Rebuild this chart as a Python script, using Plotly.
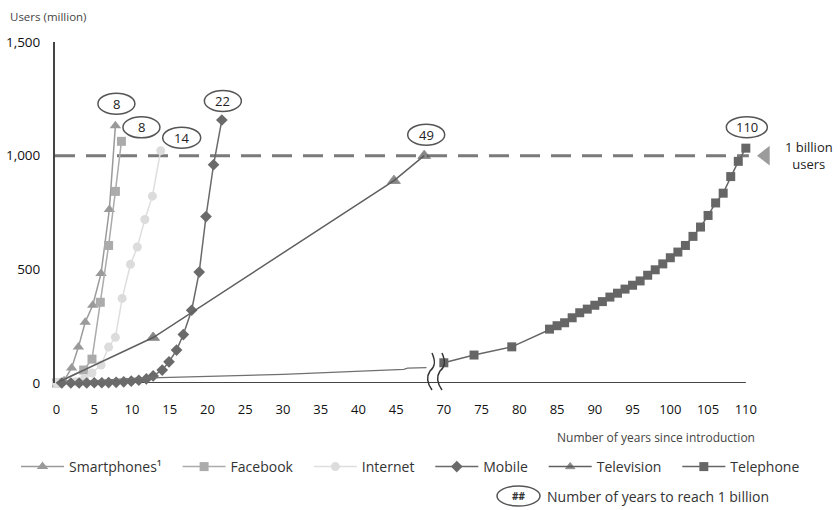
import plotly.graph_objects as go

# ---------------- data (years since introduction, users in millions) ----------------
smart_years = [1.0, 2.0, 2.9, 3.8, 4.8, 5.9, 7.0, 7.8]
smart_users = [10, 66, 158, 267, 342, 482, 763, 1132]

fb_years = [0, 3.6, 4.7, 5.8, 6.9, 7.8, 8.6]
fb_users = [0, 57, 105, 355, 605, 843, 1063]

net_years = [0, 2.5, 3.7, 4.7, 5.9, 6.9, 7.8, 8.7, 9.8, 10.7, 11.7, 12.7, 13.8]
net_users = [0, 5, 20, 44, 79, 158, 201, 372, 522, 598, 719, 822, 1022]

mobile_years = [0.7, 1.9, 3.0, 4.0, 5.0, 6.0, 6.9, 7.9, 8.9, 9.9, 10.9, 11.9, 12.8,
                14.0, 14.9, 15.9, 16.8, 17.9, 18.9, 19.8, 20.8, 21.9]
mobile_users = [0, 0, 0, 0, 1, 1, 2, 3, 5, 8, 12, 18, 31,
                57, 93, 145, 213, 320, 488, 732, 960, 1157]

tv_years = [0, 12.8, 44.7, 48.7]
tv_users = [0, 200, 890, 1000]

tel_early_years = [0, 10, 30, 46, 46.5, 49]
tel_early_users = [0, 20, 38, 60, 65, 68]
tel_years = [70, 74, 79] + list(range(84, 111))
tel_users = [89, 123, 159,
             237, 252, 265, 287, 309, 325, 342, 358, 378, 395, 413, 430, 449, 474,
             498, 524, 551, 576, 605, 645, 686, 737, 792, 835, 908, 975, 1033]

years_to_billion = {"smart": "8", "fb": "8", "net": "14", "mobile": "22", "tv": "49", "tel": "110"}

x_ticks_left = [0, 5, 10, 15, 20, 25, 30, 35, 40, 45]
x_ticks_right = [70, 75, 80, 85, 90, 95, 100, 105, 110]
y_ticks = [0, 500, 1000, 1500]
y_tick_text = ["0", "500", "1,000", "1,500"]
BILLION = 1000

# ---------------- broken-axis mapping ----------------
GAP = 18.7


def xpos(year):
    return year if year <= 50 else year - GAP


def xs(years):
    return [xpos(v) for v in years]


FONT = "Open Sans"
PAD = "\u00a0" * 3
fig = go.Figure()

series = [
    ("Smartphones¹", smart_years, smart_users, "#9a9a9a", "#9a9a9a", "triangle-up", 10),
    ("Facebook", fb_years, fb_users, "#ababab", "#ababab", "square", 9),
    ("Internet", net_years, net_users, "#dedede", "#dcdcdc", "circle", 9),
    ("Mobile", mobile_years, mobile_users, "#6a6a6a", "#6a6a6a", "diamond", 9),
]
for name, yr, us, lc, mc, sym, sz in series:
    fig.add_trace(go.Scatter(
        x=xs(yr), y=us, mode="lines+markers", name=name + PAD,
        line=dict(color=lc, width=1.5),
        marker=dict(symbol=sym, size=sz, color=mc),
        cliponaxis=False))

fig.add_trace(go.Scatter(
    x=xs(tv_years), y=tv_users, mode="lines+markers", name="Television" + PAD,
    line=dict(color="#606060", width=1.5),
    marker=dict(symbol="triangle-up", size=[0] + [11] * (len(tv_years) - 1), color="#555555"),
    cliponaxis=False))

fig.add_trace(go.Scatter(
    x=xs(tel_early_years), y=tel_early_users, mode="lines", name="Telephone",
    legendgroup="tel", showlegend=False,
    line=dict(color="#707070", width=1.2), cliponaxis=False))
fig.add_trace(go.Scatter(
    x=xs(tel_years), y=tel_users, mode="lines+markers", name="Telephone",
    legendgroup="tel",
    line=dict(color="#666666", width=1.5),
    marker=dict(symbol="square", size=9, color="#666666"),
    cliponaxis=False))

# 1 billion marker triangle
fig.add_trace(go.Scatter(
    x=[xpos(110) + 2.6], y=[BILLION], mode="markers", showlegend=False, hoverinfo="skip",
    marker=dict(symbol="triangle-left", size=17, color="#9c9c9c"), cliponaxis=False))

shapes = []
annotations = []

# threshold dashed line
shapes.append(dict(type="line", xref="x", yref="y", x0=-0.2, x1=xpos(110) + 0.4,
                   y0=BILLION, y1=BILLION, line=dict(color="#7a7a7a", width=3, dash="20px,11px"),
                   layer="below"))
# x-axis line
shapes.append(dict(type="line", xref="x", yref="y", x0=-0.2, x1=xpos(110), y0=0, y1=0,
                   line=dict(color="#444444", width=2), layer="below"))

# years-to-billion ellipses, anchored to each series' last point
label_specs = [
    ("smart", smart_years, smart_users, 1, 22, 37),
    ("fb", fb_years, fb_users, 20, 14, 37),
    ("net", net_years, net_users, 21, 13, 38),
    ("mobile", mobile_years, mobile_users, 1, 19, 37),
    ("tv", tv_years, tv_users, 2, 21, 37),
    ("tel", tel_years, tel_users, 1, 21, 41),
]
for key, yr, us, dx, dy, w in label_specs:
    xa, ya = xpos(yr[-1]), us[-1]
    shapes.append(dict(type="circle", xref="x", yref="y", xsizemode="pixel", ysizemode="pixel",
                       xanchor=xa, yanchor=ya, x0=dx - w / 2, x1=dx + w / 2, y0=dy - 10.5, y1=dy + 10.5,
                       line=dict(color="#555555", width=1.5), fillcolor="white"))
    annotations.append(dict(xref="x", yref="y", x=xa, y=ya, xshift=dx, yshift=dy,
                            text=years_to_billion[key], showarrow=False,
                            font=dict(family=FONT, size=13, color="#222222")))

# "1 billion users"
annotations.append(dict(xref="x", yref="y", x=xpos(110), y=BILLION, xshift=63, yshift=0,
                        text="1 billion<br>users", showarrow=False, align="center",
                        font=dict(family=FONT, size=13, color="#222222")))


def px2paper_x(px):
    return (px - 55) / 755


def px2paper_y(py):
    return (383 - py) / 341


# axis break marks
for bx in (431, 441):
    pts = [(bx + 1, 353), (bx + 5, 362), (bx + 4, 367), (bx - 1, 371),
           (bx - 5, 377), (bx - 4, 383), (bx + 1, 390)]
    p = [(px2paper_x(a), px2paper_y(b)) for a, b in pts]
    path = "M {:.5f},{:.5f} C {:.5f},{:.5f} {:.5f},{:.5f} {:.5f},{:.5f} C {:.5f},{:.5f} {:.5f},{:.5f} {:.5f},{:.5f}".format(
        p[0][0], p[0][1], p[1][0], p[1][1], p[2][0], p[2][1], p[3][0], p[3][1],
        p[4][0], p[4][1], p[5][0], p[5][1], p[6][0], p[6][1])
    shapes.append(dict(type="path", xref="paper", yref="paper", path=path,
                       line=dict(color="#333333", width=1.5)))

# axis titles / notes
annotations.append(dict(xref="paper", yref="paper", x=px2paper_x(8), y=px2paper_y(16),
                        xanchor="left", yanchor="middle", text="Users (million)", showarrow=False,
                        font=dict(family=FONT, size=11.5, color="#444444")))
annotations.append(dict(xref="paper", yref="paper", x=px2paper_x(757), y=px2paper_y(437),
                        xanchor="right", yanchor="middle", text="Number of years since introduction",
                        showarrow=False, font=dict(family=FONT, size=12, color="#444444")))
# "##" legend key
shapes.append(dict(type="circle", xref="paper", yref="paper",
                   x0=px2paper_x(497), x1=px2paper_x(540), y0=px2paper_y(506), y1=px2paper_y(486),
                   line=dict(color="#555555", width=1.5)))
annotations.append(dict(xref="paper", yref="paper", x=px2paper_x(518.5), y=px2paper_y(496),
                        xanchor="center", yanchor="middle", text="<b>##</b>", showarrow=False,
                        font=dict(family=FONT, size=10, color="#333333")))
annotations.append(dict(xref="paper", yref="paper", x=px2paper_x(545), y=px2paper_y(496),
                        xanchor="left", yanchor="middle", text="Number of years to reach 1 billion",
                        showarrow=False, font=dict(family=FONT, size=14, color="#333333")))

tickvals = x_ticks_left + [xpos(v) for v in x_ticks_right]
ticktext = [str(v) for v in x_ticks_left + x_ticks_right]

fig.update_layout(
    width=840, height=510, autosize=False,
    margin=dict(l=55, r=30, t=42, b=127, autoexpand=False),
    paper_bgcolor="white", plot_bgcolor="white",
    font=dict(family=FONT, color="#222222"),
    xaxis=dict(range=[-0.2, 99.8], tickvals=tickvals, ticktext=ticktext, showgrid=False,
               zeroline=False, showline=False, ticks="", ticklabelstandoff=17, automargin=False,
               tickfont=dict(family=FONT, size=13, color="#111111")),
    yaxis=dict(range=[0, 1500], tickvals=y_ticks, ticktext=y_tick_text, showgrid=False,
               zeroline=False, showline=True, linecolor="#444444", linewidth=2, ticks="",
               ticklabelstandoff=10, automargin=False,
               tickfont=dict(family=FONT, size=13.5, color="#111111")),
    legend=dict(orientation="h", x=px2paper_x(16), xanchor="left", y=px2paper_y(467),
                yanchor="middle", font=dict(family=FONT, size=14, color="#333333"),
                itemwidth=43, bgcolor="rgba(0,0,0,0)"),
    shapes=shapes, annotations=annotations, showlegend=True,
)

fig.write_html("out.html", config={"displayModeBar": False},
               post_script="document.body.style.margin='0';document.body.style.padding='0';")
